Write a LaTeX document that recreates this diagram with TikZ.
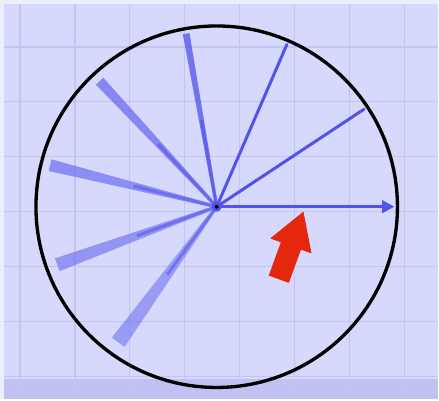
\documentclass[tikz,border=0pt]{standalone}
\definecolor{paperblue}{RGB}{214,216,252}
\definecolor{gridblue}{RGB}{194,197,244}
\definecolor{bandblue}{RGB}{192,194,242}
\definecolor{edgewhite}{RGB}{236,237,253}
\definecolor{raystroke}{RGB}{82,82,236}
\definecolor{hintred}{RGB}{228,40,14}
\usepackage{tikz}
\usetikzlibrary{shapes.arrows,arrows.meta,positioning,calc}

\begin{document}
\begin{tikzpicture}[x=0.02cm,y=0.02cm,
        gridline/.style={draw=gridblue, line width=0.7pt},
        ray/.style={draw=raystroke, line width=1.7pt, line cap=round},
        trail/.style={fill=raystroke},
        rim/.style={draw=black, line width=1.9pt},
        hint/.style={single arrow, fill=hintred, draw=hintred, line join=round,
            inner sep=0pt, minimum height=1.42cm,
            single arrow head extend=0.22cm, single arrow tip angle=62}]
    % paper and grid
    \fill[edgewhite] (-217,-193) rectangle (222,207);
    \fill[paperblue] (-213,-193) rectangle (222,203);
    \fill[bandblue] (-213,-193) rectangle (222,-173);
    \foreach \gx in {-197,-142,-87,-32,23,78,133,188}
        \draw[gridline] (\gx,-193) -- (\gx,203);
    \foreach \gy in {160,105,50,-5,-60,-115,-170}
        \draw[gridline] (-213,\gy) -- (222,\gy);
    \useasboundingbox (-217,-193) rectangle (222,207);

    \coordinate (hub) at (0,0);

    % older positions, fading out
    \foreach \a/\r/\w/\op in {234/168/2.7/0.45, 200/170/2.3/0.5, 166/172/2.0/0.55, 133/172/1.7/0.6, 100/176/1.1/0.75} {
        \coordinate (old\a) at (\a:\r);
        \fill[trail, opacity=\op] (\a+90:1.6) -- (\a+\w:\r) -- (\a-\w:\r) -- (\a-90:1.6) -- cycle;
        \draw[ray, opacity=0.55, line cap=butt] (hub) -- ($(hub)!0.5!(old\a)$);
    }
    % recent positions
    \foreach \k/\a in {1/33.5,2/66.6} {
        \coordinate (new\k) at (\a:177);
        \draw[ray] (hub) -- (new\k);
    }
    \coordinate (now) at (0:178);
    \draw[ray, -{Triangle[length=7pt,width=7pt]}] (hub) -- (now);

    \fill[raystroke] (hub) circle[radius=5];
    \fill[black] (hub) circle[radius=2];

    \draw[rim] (hub) circle[radius=181];

    \node[hint, rotate=70] (nudge) at (71.5,-47) {\rule{0pt}{0.4cm}};
\end{tikzpicture}
\end{document}
